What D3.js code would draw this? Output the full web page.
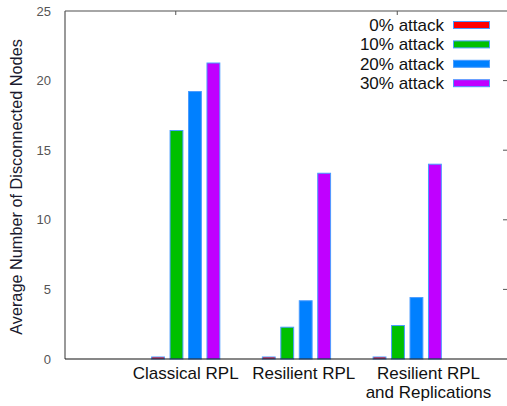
<!DOCTYPE html>
<html>
<head>
<meta charset="utf-8">
<script src="https://cdn.jsdelivr.net/npm/d3@7"></script>
<style>
  html, body { margin: 0; padding: 0; background: #fff; }
  svg { display: block; font-family: "Liberation Sans", Arial, sans-serif; }
</style>
</head>
<body>
<div id="chart"></div>
<script>
// Datos
const CATEGORIES = [["Classical RPL"], ["Resilient RPL"], ["Resilient RPL", "and Replications"]];
const SERIES     = ["0% attack", "10% attack", "20% attack", "30% attack"];
const ATTACK_0   = [0.18, 0.18, 0.18];
const ATTACK_10  = [16.45, 2.32, 2.44];
const ATTACK_20  = [19.25, 4.22, 4.45];
const ATTACK_30  = [21.3, 13.38, 14.03];
const Y_TICKS    = [0, 5, 10, 15, 20, 25];
const TOP_TICKS  = [-0.09, 1.91];
const COLORS     = ["#ff0000", "#00c000", "#0080ff", "#c000ff"];

const VALUES = [ATTACK_0, ATTACK_10, ATTACK_20, ATTACK_30];

const width = 507, height = 406;
const margin = { top: 11, right: -1, bottom: 47, left: 65 };

const svg = d3.select("#chart").append("svg")
  .attr("width", width).attr("height", height);

const x = d3.scaleLinear().domain([-1.09, 2.91]).range([margin.left, width - margin.right]);
const y = d3.scaleLinear().domain([0, 25]).range([height - margin.bottom, margin.top]);
const color = d3.scaleOrdinal().domain(SERIES).range(COLORS);

const STEP = 1 / 6, BOXW = 0.75 / 6;
// desplazamiento de las etiquetas (como en gnuplot, no quedan centradas)
const LABEL_SHIFT = i => i * 0.036 + i * i * 0.03;

// Marco
svg.append("line")
  .attr("x1", x.range()[0]).attr("x2", x.range()[1])
  .attr("y1", y(25)).attr("y2", y(25))
  .attr("stroke", "#888").attr("stroke-width", 1.5);
svg.append("line")
  .attr("x1", x.range()[0]).attr("x2", x.range()[0])
  .attr("y1", y(25)).attr("y2", y(0))
  .attr("stroke", "#555").attr("stroke-width", 1.2);

// Ticks a la derecha y arriba
svg.append("g").selectAll("line").data(Y_TICKS.filter(d => d > 0 && d < 25)).join("line")
  .attr("x1", x.range()[1] - 5).attr("x2", x.range()[1])
  .attr("y1", d => y(d)).attr("y2", d => y(d))
  .attr("stroke", "#555");
svg.append("g").selectAll("line").data(TOP_TICKS).join("line")
  .attr("x1", d => x(d)).attr("x2", d => x(d))
  .attr("y1", y(25)).attr("y2", y(25) + 4)
  .attr("stroke", "#555");

// Etiquetas eje Y
svg.append("g").selectAll("text").data(Y_TICKS).join("text")
  .attr("x", 51).attr("y", d => y(d)).attr("dy", "0.35em")
  .attr("text-anchor", "end").attr("font-size", 13).attr("fill", "#555")
  .text(d => d);

svg.append("text")
  .attr("transform", `translate(22,${(y(0) + y(25)) / 2 + 2}) rotate(-90)`)
  .attr("text-anchor", "middle").attr("font-size", 16.3).attr("fill", "#1a1a2e")
  .text("Average Number of Disconnected Nodes");

// Barras
SERIES.forEach((s, j) => {
  svg.append("g").selectAll("rect").data(VALUES[j]).join("rect")
    .attr("x", (d, i) => x(i + (j - 1.5) * STEP - BOXW / 2) + 0.5)
    .attr("width", x(BOXW) - x(0) - 1)
    .attr("y", d => y(d) + 0.5)
    .attr("height", d => Math.max(0, y(0) - y(d) - 0.5))
    .attr("fill", color(s))
    .attr("stroke", "#4a9cff").attr("stroke-width", 1);
});

// Eje X
svg.append("line")
  .attr("x1", x.range()[0]).attr("x2", x.range()[1])
  .attr("y1", y(0)).attr("y2", y(0))
  .attr("stroke", "#111").attr("stroke-width", 1.2);

svg.append("g").selectAll("text").data(CATEGORIES).join("text")
  .attr("x", (d, i) => x(i + LABEL_SHIFT(i)))
  .attr("y", y(0) + 20)
  .attr("text-anchor", "middle").attr("font-size", 17).attr("fill", "#111")
  .each(function(lines) {
    d3.select(this).selectAll("tspan").data(lines).join("tspan")
      .attr("x", d3.select(this).attr("x"))
      .attr("dy", (d, k) => k === 0 ? 0 : 19)
      .text(d => d);
  });

// Leyenda
const legend = svg.append("g");
const rows = legend.selectAll("g").data(SERIES).join("g")
  .attr("transform", (d, i) => `translate(0,${25 + i * 19.4})`);
rows.append("text")
  .attr("x", 444).attr("dy", "0.35em")
  .attr("text-anchor", "end").attr("font-size", 17).attr("fill", "#111")
  .text(d => d);
rows.append("rect")
  .attr("x", 453.5).attr("y", -3.5).attr("width", 36).attr("height", 7)
  .attr("fill", d => color(d)).attr("stroke", "#4a9cff").attr("stroke-width", 1);
</script>
</body>
</html>
